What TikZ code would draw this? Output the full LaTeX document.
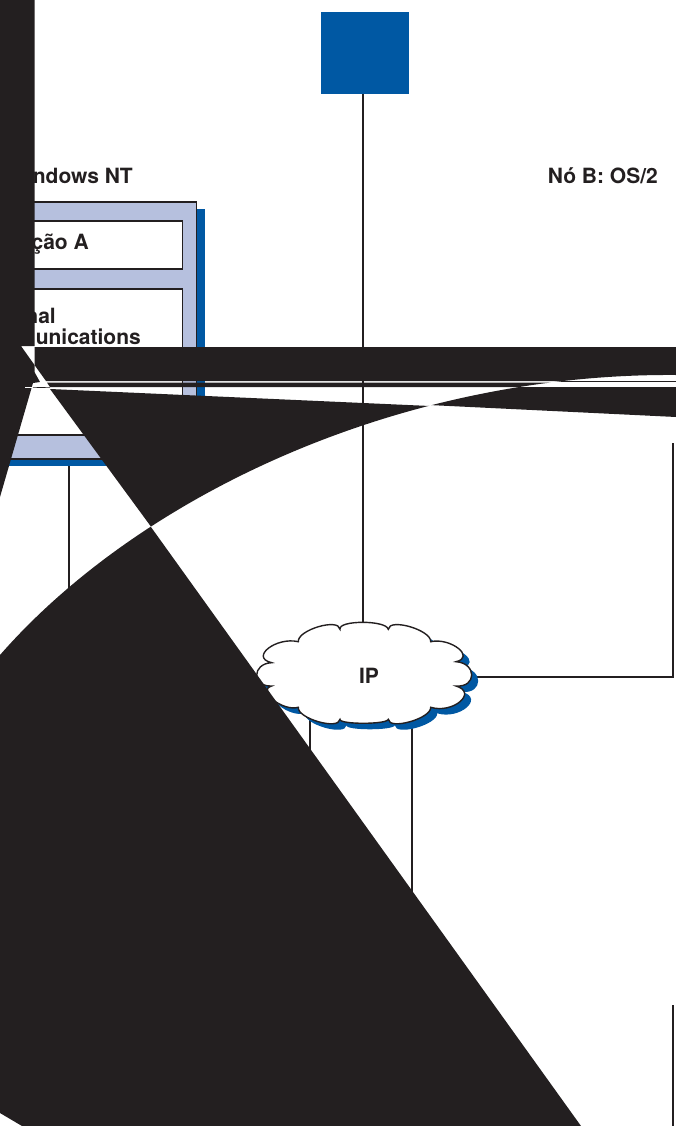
\documentclass[tikz,border=0pt]{standalone}
\usepackage{fontspec}
\setmainfont{TeX Gyre Heros}
\definecolor{inkblack}{HTML}{231F20}
\definecolor{netblue}{HTML}{0058A3}
\definecolor{panelblue}{HTML}{B6C0DE}
\tikzset{
  label/.style={inkblack, inner sep=0pt, font=\fontsize{21}{22}\selectfont\bfseries},
  wire/.style={inkblack, line width=1.3pt},
  panel/.style={draw=inkblack, fill=panelblue, line width=1.5pt, anchor=north east, inner sep=0pt},
  slot/.style={draw=inkblack, fill=white, line width=1.5pt, anchor=north east, inner sep=0pt},
  slab/.style={fill=netblue, anchor=north east, inner sep=0pt},
}
% outline of the cloud, cusp to cusp
\newcommand{\cloudoutline}{(340,629.3)
  .. controls (338,620) and (386.4,620) .. (388.3,629.3)
  .. controls (389,617.6) and (431.4,630) .. (430.7,641.7)
  .. controls (450.6,637.2) and (475.9,657.2) .. (456,661.7)
  .. controls (476.9,663.2) and (476.9,687.5) .. (456,686)
  .. controls (478.2,692.7) and (452.9,714) .. (430.7,707.3)
  .. controls (431.4,718.5) and (389,730.5) .. (388.3,719.3)
  .. controls (387.2,724.6) and (338.9,724.6) .. (340,719.3)
  .. controls (338.9,730.5) and (297.2,718.5) .. (298.3,707.3)
  .. controls (282.7,711.8) and (256.1,690.5) .. (271.7,686)
  .. controls (251.7,686.9) and (251.7,663.6) .. (271.7,662.7)
  .. controls (249.4,657.5) and (276,636.5) .. (298.3,641.7)
  .. controls (297.2,630) and (338.9,617.6) .. (340,629.3) -- cycle}
\newcommand{\sweep}{(0,655) .. controls (140,495) and (400,373) .. (676,375)}
\begin{document}
\begin{tikzpicture}[x=1pt, y=-1pt]
  \clip (0,0) rectangle (676,1126);
  % top square
  \node[slab, minimum width=88pt, minimum height=82pt] (server) at (409,12) {};
  % headings
  \node[label, anchor=base east] (titleA) at (133,184) {ndows NT};
  \node[label, anchor=base east] (titleB) at (658,184) {Nó B: OS/2};
  % node A stack
  \node[slab, minimum width=245pt, minimum height=257pt] (shadowA) at (205,209) {};
  \node[panel, minimum width=237pt, minimum height=257pt] (panelA) at (197,201) {};
  \node[slot, minimum width=203pt, minimum height=48pt] (appA) at (183,220) {};
  \node[slot, minimum width=203pt, minimum height=146pt] (commA) at (183,288) {};
  \node[label, anchor=base east] (appAtext) at (89,249) {ção A};
  \node[label, anchor=base east] (commAtext) at (56,323) {nal};
  \node[label, anchor=base east] (commAtextb) at (141,344) {unications};
  % connectors
  \coordinate (cloudtop) at (363,640);
  \coordinate (footA) at (69,700);
  \coordinate (footB) at (310,800);
  \coordinate (footC) at (412,900);
  \coordinate (headC) at (412,710);
  \coordinate (headB) at (310,710);
  \coordinate (feedR) at (673,443);
  \coordinate (bendR) at (673,677);
  \coordinate (lowR) at (673,1005);
  \coordinate (lowRb) at (673,1126);
  \coordinate (cloudR) at (460,677);
  \draw[wire] (cloudtop |- server.south) -- (cloudtop);
  \draw[wire] (footA |- shadowA.south) -- (footA);
  \draw[wire] (headB) -- (footB);
  \draw[wire] (headC) -- (footC);
  \draw[wire] (feedR) -- (bendR) -- (cloudR);
  \draw[wire, line width=1.8pt] (lowR) -- (lowRb);
  % cloud
  \fill[netblue, shift={(6.5,6)}] \cloudoutline;
  \draw[inkblack, fill=white, line width=1.4pt] \cloudoutline;
  \node[label] (ip) at (369,676) {IP};
  % black sheets, above the sweep
  \fill[inkblack] (0,0) -- (34.5,0) -- (34.5,346) -- (21,346) -- (34.5,365) -- (34.5,372) -- (40,382)
    -- (33,383) -- (0,497) -- cycle;
  \begin{scope}
    \clip \sweep -- (676,0) -- (0,0) -- cycle;
    \fill[inkblack] (34.5,347) -- (676,347) -- (676,381) -- (46,381) -- (34.5,365) -- cycle;
    \fill[inkblack] (47,382.6) -- (676,382.6) -- (676,387) -- (50,387) -- cycle;
    \fill[inkblack] (50,389) -- (676,417) -- (152,528) -- cycle;
  \end{scope}
  % black sheets, below the sweep
  \begin{scope}
    \clip \sweep -- (676,1126) -- (0,1126) -- cycle;
    \fill[inkblack] (400,387) -- (676,387) -- (676,417) -- (400,403.6) -- cycle;
    \fill[inkblack] (400,381) rectangle (676,382.4);
    \fill[inkblack] (21,346) -- (581,1126) -- (22,1126) -- (0,1113) -- (0,346) -- cycle;
  \end{scope}
  \draw[white, line width=0.6pt] (25,387.4) -- (33,387.4);
  \draw[inkblack, line width=0.6pt] (33,387.4) -- (50,387.6);
\end{tikzpicture}
\end{document}
